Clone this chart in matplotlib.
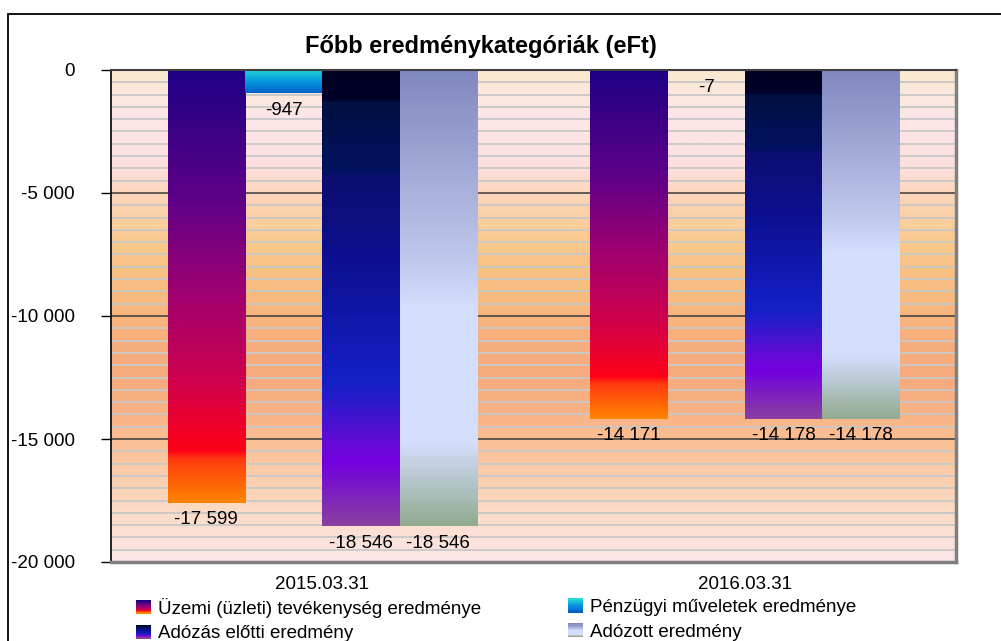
import numpy as np
import matplotlib
matplotlib.use("Agg")
import matplotlib.pyplot as plt
from matplotlib.colors import LinearSegmentedColormap
from matplotlib.patches import Patch, Rectangle
from matplotlib.legend_handler import HandlerBase
from matplotlib.ticker import MultipleLocator, FuncFormatter

plt.rcParams['font.family'] = ['Liberation Sans', 'DejaVu Sans']

categories = ["2015.03.31", "2016.03.31"]
series_names = ["Üzemi (üzleti) tevékenység eredménye", "Pénzügyi műveletek eredménye",
                "Adózás előtti eredmény", "Adózott eredmény"]
uzemi = [-17599, -14171]
penzugyi = [-947, -7]
adozas_elotti = [-18546, -14178]
adozott = [-18546, -14178]
series = [uzemi, penzugyi, adozas_elotti, adozott]

# gradient stops for each series (top of bar -> bar end)
grad_stops = [
    [(0, '#1E0084'), (0.3, '#5E0088'), (0.52, '#A00070'), (0.72, '#D0004C'),
     (0.88, '#FF0018'), (0.9, '#FF3A10'), (1.0, '#FF8400')],
    [(0, '#22D8D8'), (0.5, '#0898E0'), (1, '#0060C8')],
    [(0, '#000020'), (0.065, '#00002A'), (0.07, '#001040'), (0.22, '#00105E'),
     (0.24, '#0C0D70'), (0.42, '#0C1090'), (0.69, '#1520C8'), (0.83, '#6A08D8'),
     (0.86, '#7000E0'), (1.0, '#8A40A0')],
    [(0, '#8088C0'), (0.42, '#C0C8EC'), (0.52, '#D4DEFD'), (0.82, '#D4DEFD'),
     (1.0, '#92AA90')],
]
cmaps = [LinearSegmentedColormap.from_list("s%d" % i, s) for i, s in enumerate(grad_stops)]

bg_stops = [(0, '#FBE9CF'), (0.1, '#FDE6E9'), (0.2, '#FDE0DD'), (0.25, '#FDD6BC'),
            (0.35, '#FAC98C'), (0.45, '#F8BC7F'), (0.55, '#F7AE7D'), (0.63, '#F6AA7E'),
            (0.7, '#F8B485'), (0.8, '#FBC8A2'), (0.9, '#FCDCC6'), (1.0, '#FDE6EA')]
bg_cmap = LinearSegmentedColormap.from_list("bg", bg_stops)


class GradHandler(HandlerBase):
    def __init__(self, cmap):
        super().__init__()
        self.cmap = cmap

    def create_artists(self, legend, orig_handle, xdescent, ydescent, width, height, fontsize, trans):
        n = 12
        arts = []
        for i in range(n):
            c = self.cmap(i / (n - 1))
            r = Rectangle((-xdescent, -ydescent + height * (n - 1 - i) / n), width, height / n + 0.3,
                          facecolor=c, edgecolor='none', transform=trans)
            arts.append(r)
        return arts


fig = plt.figure(figsize=(10.01, 6.41), dpi=100)
ax = fig.add_axes([111 / 1001, 1 - 562 / 641, (956 - 111) / 1001, (562 - 70) / 641])

ymin, ymax = -20000, 0
x = np.arange(len(categories))
width = 0.183
fs = 13.5

# background gradient
grad = np.linspace(0, 1, 256).reshape(-1, 1)
ax.imshow(grad, extent=[-0.5, 1.5, ymin, ymax], aspect='auto', cmap=bg_cmap, zorder=0)

for i, (vals, cm) in enumerate(zip(series, cmaps)):
    pos = x + (i - 1.5) * width
    bars = ax.bar(pos, vals, width, color='none', edgecolor='none', zorder=2)
    for b, v in zip(bars, vals):
        x0 = b.get_x()
        im = ax.imshow(grad, extent=[x0, x0 + width, v, 0], aspect='auto', cmap=cm, zorder=2)
        im.set_clip_path(b)
        ax.annotate(f"{v:,}".replace(",", " "), (b.get_x() + width / 2, v),
                    xytext=(0, -6), textcoords='offset points', ha='center', va='top',
                    fontsize=fs, zorder=3)

ax.set_xlim(-0.5, 1.5)
ax.set_ylim(ymin, ymax)
ax.set_axisbelow(True)
ax.yaxis.set_major_locator(MultipleLocator(5000))
ax.yaxis.set_minor_locator(MultipleLocator(500))
ax.yaxis.set_major_formatter(FuncFormatter(lambda v, p: f"{int(v):,}".replace(",", " ")))
ax.grid(which='minor', axis='y', color='#C8C8C8', lw=1.3)
ax.grid(which='major', axis='y', color='#3A3A3A', lw=1.1)
ax.tick_params(axis='y', which='major', length=7, width=1, pad=19, labelsize=fs)
ax.tick_params(axis='y', which='minor', length=0)
ax.set_xticks(x)
ax.set_xticklabels(categories)
ax.tick_params(axis='x', length=0, pad=10, labelsize=fs)

ax.spines['left'].set_color('black')
ax.spines['left'].set_linewidth(1.2)
ax.spines['top'].set_color('#404040')
ax.spines['top'].set_linewidth(1.5)
for s in ('right', 'bottom'):
    ax.spines[s].set_color('#808080')
    ax.spines[s].set_linewidth(2.5)

fig.text(481 / 1001, 1 - 46 / 641, "Főbb eredménykategóriák (eFt)", ha='center', va='center',
         fontsize=17, fontweight='bold')

# outer chart border (runs past the image edge)
fig.patches.append(Rectangle((8 / 1001, -0.2), 1.2, 1.2 - 14 / 641, transform=fig.transFigure,
                             fill=False, edgecolor='black', lw=1.3))

handles = [Patch(label=n) for n in series_names]
hmap = {h: GradHandler(cm) for h, cm in zip(handles, cmaps)}
leg_kw = dict(frameon=False, fontsize=fs, handlelength=0.8, handleheight=0.75,
              handletextpad=0.4, labelspacing=0.4, borderpad=0, borderaxespad=0,
              loc='center left', handler_map=hmap)
fig.legend(handles=[handles[0], handles[2]], bbox_to_anchor=(136 / 1001, 1 - 620 / 641), **leg_kw)
fig.legend(handles=[handles[1], handles[3]], bbox_to_anchor=(568 / 1001, 1 - 620 / 641), **leg_kw)

fig.savefig("out.png", dpi=100)
